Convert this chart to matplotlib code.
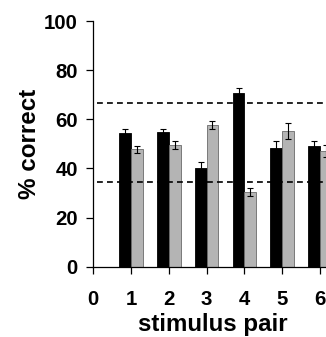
import numpy as np
import matplotlib
matplotlib.use("Agg")
import matplotlib.pyplot as plt

pairs = [1, 2, 3, 4, 5, 6]
black_vals = [54.3, 54.7, 40.0, 70.6, 48.4, 49.3]
black_err = [1.6, 1.5, 2.5, 2.0, 2.9, 1.9]
gray_vals = [47.8, 49.5, 57.7, 30.4, 55.2, 47.1]
gray_err = [1.5, 1.7, 1.5, 1.8, 3.2, 2.5]
chance_lines = [66.5, 34.5]

plt.rcParams['font.family'] = ['Liberation Sans', 'DejaVu Sans']

fig = plt.figure(figsize=(3.26, 3.37), dpi=100)
ax = fig.add_axes([0.286, 0.2086, 0.714, 0.729])

x = np.array(pairs, dtype=float)
w = 0.31
ax.bar(x - w / 2, black_vals, width=w, color='black', edgecolor='black', linewidth=0.6,
       yerr=black_err, error_kw=dict(ecolor='black', elinewidth=0.8, capsize=2.5, capthick=0.8))
ax.bar(x + w / 2, gray_vals, width=w, color='#b4b4b4', edgecolor='#6a6a6a', linewidth=0.6,
       yerr=gray_err, error_kw=dict(ecolor='black', elinewidth=0.8, capsize=2.5, capthick=0.8))

for y in chance_lines:
    ax.plot([0.1, 6.2], [y, y], color='black', linestyle=(0, (3.5, 2.5)), linewidth=1.2)

ax.set_xlim(0, 6.16)
ax.set_ylim(0, 100)
ax.set_xticks([0] + pairs)
ax.set_yticks([0, 20, 40, 60, 80, 100])
ax.spines['top'].set_visible(False)
ax.spines['right'].set_visible(False)
ax.spines['left'].set_linewidth(0.9)
ax.spines['bottom'].set_linewidth(0.9)
ax.tick_params(axis='both', direction='out', length=5, width=0.9, labelsize=14.7)
ax.tick_params(axis='y', pad=6)
ax.tick_params(axis='x', pad=11.5)
for lab in ax.get_xticklabels() + ax.get_yticklabels():
    lab.set_fontweight('bold')

ax.set_ylabel('% correct', fontsize=17.4, fontweight='bold', labelpad=2)
ax.set_xlabel('stimulus pair', fontsize=17.4, fontweight='bold', labelpad=3)
ax.xaxis.label.set_x(0.514)

fig.savefig('out.png', dpi=100)
